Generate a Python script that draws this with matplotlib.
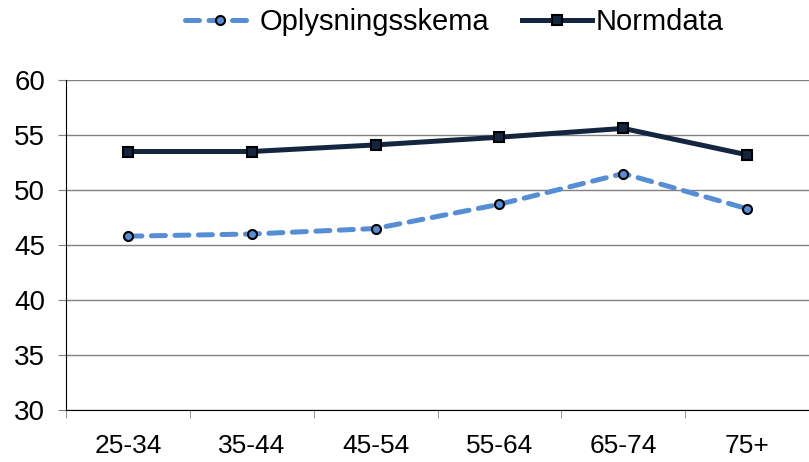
import matplotlib
matplotlib.use("Agg")
import matplotlib.pyplot as plt
import numpy as np

plt.rcParams['font.family'] = ['Liberation Sans', 'DejaVu Sans']

categories = ['25-34', '35-44', '45-54', '55-64', '65-74', '75+']
oplysning = [45.8, 46.0, 46.5, 48.7, 51.5, 48.3]
normdata = [53.5, 53.5, 54.1, 54.8, 55.6, 53.2]

blue = '#558ed5'
navy = '#14263f'

fig = plt.figure(figsize=(8.09, 4.62), dpi=100)
ax = fig.add_axes([0.0816, 0.1126, 0.9184, 0.7142])

x = np.arange(len(categories))
l1, = ax.plot(x, oplysning, color=blue, lw=3.6, ls=(0, (2.8, 1.9)),
              dash_capstyle='round', marker='o', ms=6.5, mfc=blue, mec='black',
              mew=1.5, label='Oplysningsskema', zorder=3)
l2, = ax.plot(x, normdata, color=navy, lw=3.6, marker='s', ms=6.5, mfc=navy,
              mec='black', mew=1.5, label='Normdata', zorder=4)

ax.set_xlim(-0.5, len(categories) - 0.5)
ax.set_ylim(30, 60)
ax.set_yticks(range(30, 61, 5))
ax.set_xticks(x)
ax.set_xticklabels(categories)
ax.set_xticks(np.arange(-0.5, len(categories), 1), minor=True)
ax.tick_params(axis='x', which='major', length=0, pad=17, labelsize=19)
ax.tick_params(axis='x', which='minor', length=6, color='#808080', direction='out')
ax.tick_params(axis='y', length=6, color='#808080', labelsize=20, pad=9)
ax.yaxis.grid(True, color='#808080', lw=1)
ax.set_axisbelow(True)

for s in ['top', 'right']:
    ax.spines[s].set_visible(False)
ax.spines['left'].set_color('black')
ax.spines['bottom'].set_color('black')

fig.legend(handles=[l1, l2], loc='center', bbox_to_anchor=(0.562, 0.952), ncol=2,
           frameon=False, fontsize=21, handlelength=2.4, handletextpad=0.15,
           columnspacing=1.1)

fig.savefig('out.png', dpi=100)
